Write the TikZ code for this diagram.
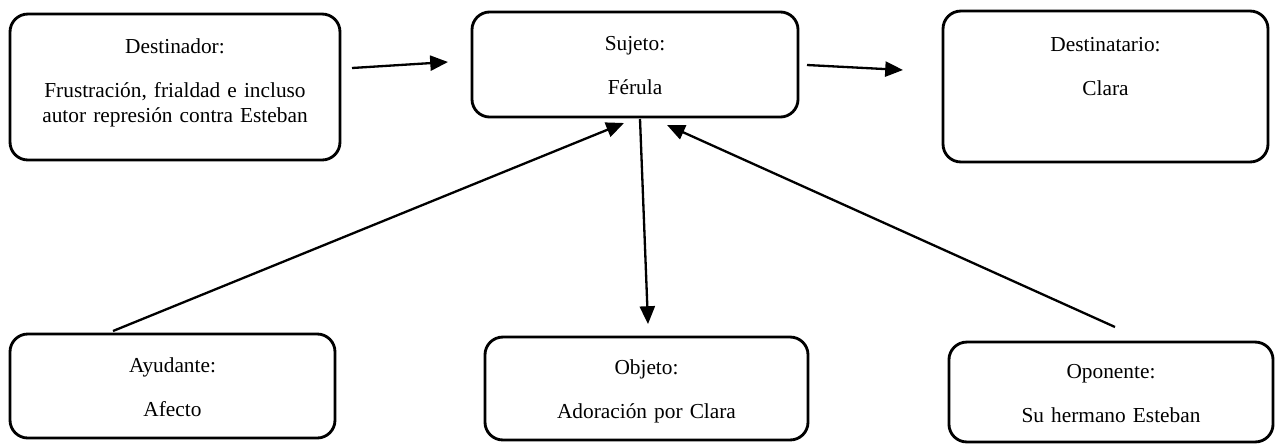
\documentclass[tikz,border=0pt]{standalone}
\usepackage{fontspec}
\setmainfont{Liberation Serif}
\usetikzlibrary{arrows.meta,positioning}
\tikzset{
  caja/.style={draw, line width=1.6pt, rounded corners=10pt, inner sep=0pt},
  texto/.style={anchor=base, text width=180pt, align=center, inner sep=0pt,
    font=\fontsize{12}{13.6}\selectfont},
  flecha/.style={line width=1.3pt, -{Triangle[length=10pt,width=8.5pt]}},
}
\begin{document}
\begin{tikzpicture}[x=0.5625pt,y=-0.5625pt]
      \useasboundingbox (0,0) rectangle (1280,443);
      \draw
        (175,87) node[caja, minimum width=185.6pt, minimum height=82.1pt] (destinador){}
        (635,64.5) node[caja, minimum width=183.4pt, minimum height=59.1pt] (sujeto){}
        (1105.5,86.5) node[caja, minimum width=182.8pt, minimum height=84.9pt] (destinatario){}
        (172.5,386) node[caja, minimum width=182.8pt, minimum height=58.5pt] (ayudante){}
        (646.5,388.5) node[caja, minimum width=181.7pt, minimum height=57.9pt] (objeto){}
        (1111,392) node[caja, minimum width=182.3pt, minimum height=56.2pt] (oponente){};
      \path
        (175,53) node[texto] (destinador-t){Destinador:\\[11.7pt]Frustración, frialdad e incluso\\autor represión contra Esteban}
        (635,50) node[texto] (sujeto-t){Sujeto:\\[11.7pt]Férula}
        (1105.5,51) node[texto] (destinatario-t){Destinatario:\\[11.7pt]Clara}
        (172.5,372) node[texto] (ayudante-t){Ayudante:\\[11.7pt]Afecto}
        (646.5,374) node[texto] (objeto-t){Objeto:\\[11.7pt]Adoración por Clara}
        (1111,378) node[texto] (oponente-t){Oponente:\\[11.7pt]Su hermano Esteban};
      \path
        (352,68) coordinate (d-out)   (448,62) coordinate (s-in1)
        (807,65) coordinate (s-out1)  (903,70) coordinate (dt-in)
        (113,331) coordinate (a-out)  (624,123) coordinate (s-in2)
        (640,119) coordinate (s-out2) (648,324) coordinate (o-in)
        (1115,327) coordinate (op-out) (667,125) coordinate (s-in3);
      \begin{scope}[flecha]
        \draw (d-out) to (s-in1);
        \draw (s-out1) to (dt-in);
        \draw (a-out) to (s-in2);
        \draw (s-out2) to (o-in);
        \draw (op-out) to (s-in3);
      \end{scope}
    \end{tikzpicture}
\end{document}
